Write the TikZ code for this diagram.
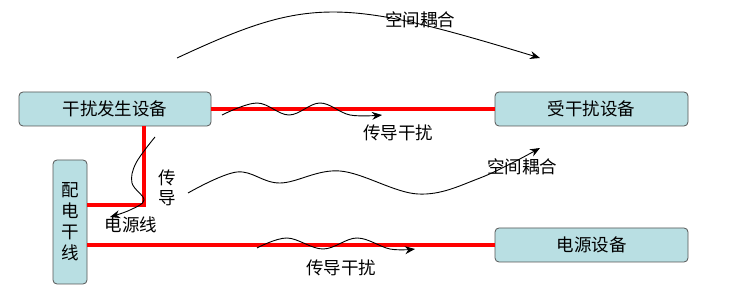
\documentclass[tikz,border=0pt]{standalone}
\usepackage{fontspec}
\setmainfont{Noto Sans CJK SC}
\usetikzlibrary{arrows.meta}
\definecolor{boxfill}{HTML}{B9DFE3}
\definecolor{boxline}{HTML}{555555}
\begin{document}
\begin{tikzpicture}[x=1pt,y=-1pt,
  dev/.style={draw=boxline,fill=boxfill,rounded corners=4pt,line width=0.8pt,inner sep=0pt,font=\fontsize{17.5}{20}\selectfont},
  wire/.style={red,line width=3.5pt},
  wave/.style={black,line width=0.9pt,-{Stealth[length=10pt,width=8pt]}},
  lbl/.style={font=\fontsize{17.5}{20}\selectfont,inner sep=0pt}]
\useasboundingbox (0,0) rectangle (729,299);
% boxes
\node[dev,minimum width=192pt,minimum height=34pt] (src) at (115,109) {干扰发生设备};
\node[dev,minimum width=193pt,minimum height=34pt] (vic) at (591.5,109) {受干扰设备};
\node[dev,minimum width=193pt,minimum height=34pt] (psu) at (591.5,245) {电源设备};
\node[dev,minimum width=34pt,minimum height=124pt,align=center,font=\fontsize{17.5}{21}\selectfont] (main) at (70,222) {配\\电\\干\\线};
% red wires
\draw[wire] (src.east) -- (vic.west);
\coordinate (srcb) at (144,126);
\coordinate (bend) at (144,205);
\coordinate (mainr) at (87,205);
\draw[wire] (srcb) -- (bend) -- (mainr);
\coordinate (mainr2) at (87,245);
\draw[wire] (mainr2) -- (psu.west);
% big arc
\coordinate (a1) at (177,58);
\coordinate (a2) at (540,58);
\draw[wave] (a1) .. controls (308,-3) and (340,-3) .. (a2);
\node[lbl] (l1) at (420,20) {空间耦合};
% top wave
\draw[wave] plot[smooth,tension=0.6] coordinates {(222,115) (257,103) (289,115) (320,103) (350,115) (382,115)};
\node[lbl] (l2) at (398,133) {传导干扰};
% middle wave
\draw[wave] plot[smooth,tension=0.6] coordinates {(188,193) (237,172) (280,183) (340,171) (418,194) (480,178) (540,148)};
\node[lbl] (l3) at (522,167) {空间耦合};
% bottom wave
\draw[wave] plot[smooth,tension=0.6] coordinates {(257,248) (287,238) (323,249) (357,238) (390,249) (415,249)};
\node[lbl] (l4) at (341,268) {传导干扰};
% vertical curved arrow
\draw[wave] plot[smooth,tension=0.6] coordinates {(155,137) (136,163) (132,183) (144,200) (130,210) (110,217)};
\node[lbl,align=center,font=\fontsize{17.5}{20}\selectfont] (l5) at (167,188) {传\\导};
\node[lbl] (l6) at (131,225) {电源线};
\end{tikzpicture}
\end{document}
